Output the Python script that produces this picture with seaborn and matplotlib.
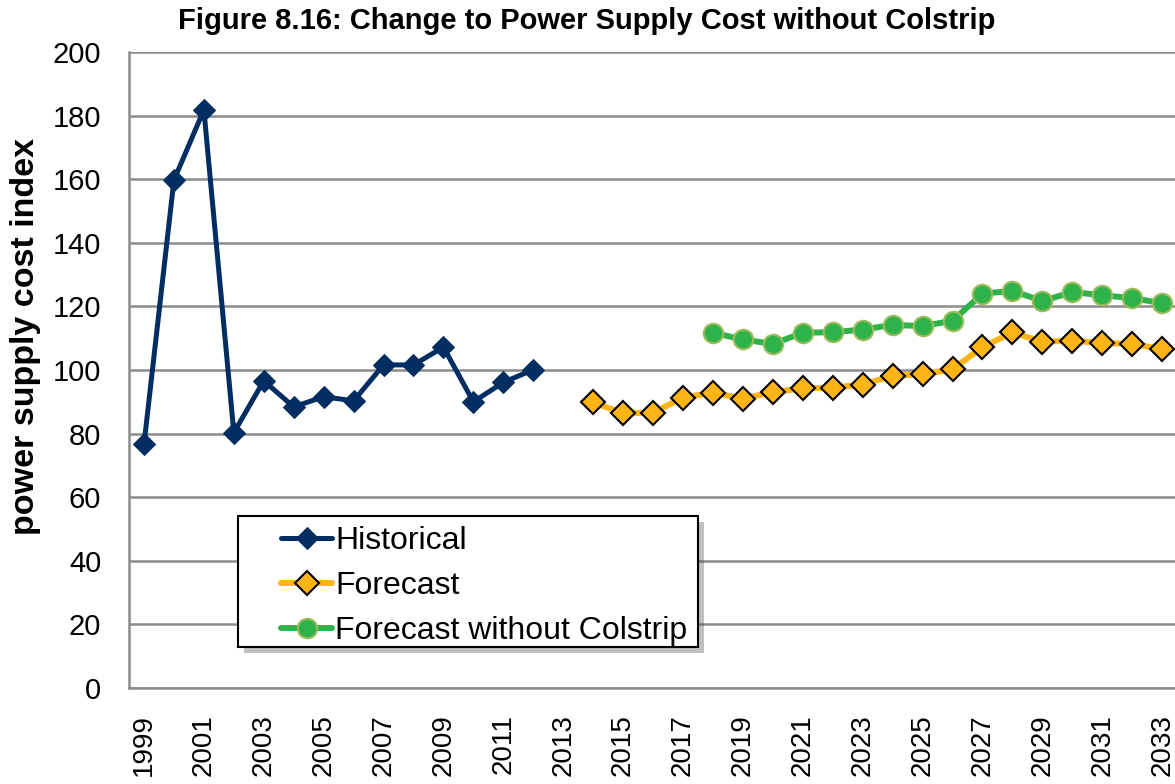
import pandas as pd
import matplotlib
matplotlib.use('Agg')
import matplotlib.pyplot as plt
import matplotlib.patches as mpatches
import matplotlib.patheffects as pe
import seaborn as sns

# valores
anos_hist = list(range(1999, 2013))
historico = [76.6, 159.7, 181.8, 80.3, 96.6, 88.4, 91.6, 90.3, 101.6, 101.6, 107.2, 90.0, 96.1, 100.1]

anos_prev = list(range(2014, 2034))
previsao = [89.8, 86.4, 86.6, 91.3, 92.9, 91.0, 93.1, 94.2, 94.5, 95.4,
            98.2, 98.7, 100.2, 107.2, 111.8, 108.9, 109.2, 108.5, 108.2, 106.6]

anos_sem = list(range(2018, 2034))
sem_colstrip = [111.7, 109.6, 108.2, 111.7, 111.9, 112.7, 114.2, 113.8,
                115.5, 124.0, 124.9, 121.7, 124.5, 123.5, 122.6, 121.0]

anos_ticks = list(range(1999, 2034, 2))

df_hist = pd.DataFrame({'Ano': anos_hist, 'Indice': historico})
df_prev = pd.DataFrame({'Ano': anos_prev, 'Indice': previsao})
df_sem = pd.DataFrame({'Ano': anos_sem, 'Indice': sem_colstrip})

sns.set_theme(style="white")
plt.rcParams['font.family'] = ['Liberation Sans', 'DejaVu Sans']
plt.rcParams['text.color'] = 'black'
plt.rcParams['axes.labelcolor'] = 'black'
plt.rcParams['xtick.color'] = 'black'
plt.rcParams['ytick.color'] = 'black'

fig = plt.figure(figsize=(11.75, 7.84), dpi=100)
ax = fig.add_axes([0.1098, 0.1224, 0.892, 0.8113])

sns.lineplot(x='Ano', y='Indice', data=df_hist, ax=ax, color='#002D62', linewidth=3.6,
             marker='D', markersize=11, markeredgecolor='#002D62', label='Historical')
sns.lineplot(x='Ano', y='Indice', data=df_prev, ax=ax, color='#FDB515', linewidth=4.3,
             marker='D', markersize=12, markeredgecolor='black', markeredgewidth=1.5,
             label='Forecast')
sns.lineplot(x='Ano', y='Indice', data=df_sem, ax=ax, color='#2DB34A', linewidth=4.3,
             marker='o', markersize=14, markeredgecolor='#9BBB59', markeredgewidth=1.5,
             label='Forecast without Colstrip')

ax.set_xlim(1998.5, 2033.5)
ax.set_ylim(0, 200)
ax.set_yticks(range(0, 201, 20))
ax.set_xticks(anos_ticks)
ax.set_xticklabels([str(a) for a in anos_ticks], rotation=90)
ax.tick_params(axis='y', labelsize=21, length=0, pad=20)
ax.tick_params(axis='x', labelsize=20, length=0, pad=19)
ax.yaxis.grid(True, color='#8C8C8C', linewidth=1.8)
ax.set_axisbelow(True)

for lado in ['top', 'right']:
    ax.spines[lado].set_visible(False)
for lado in ['left', 'bottom']:
    ax.spines[lado].set_color('#8C8C8C')
    ax.spines[lado].set_linewidth(1.8)

ax.set_xlabel('')
ax.set_ylabel('power supply cost index', fontsize=24.5, fontweight='bold')
ax.yaxis.set_label_coords(-0.084, 0.552)
fig.text(0.499, 0.973, 'Figure 8.16: Change to Power Supply Cost without Colstrip',
         ha='center', va='center', fontsize=21, fontweight='bold')

# caixa da legenda com sombra
caixa = mpatches.Rectangle((0.104, 0.0645), 0.439, 0.206, transform=ax.transAxes,
                           facecolor='white', edgecolor='black', linewidth=1.5, zorder=4,
                           path_effects=[pe.SimplePatchShadow(offset=(4, -4), alpha=0.35),
                                         pe.Normal()])
ax.add_patch(caixa)

leg = ax.legend(loc='upper left', bbox_to_anchor=(0.145, 0.254), frameon=False,
                fontsize=23, handlelength=1.6, handletextpad=0.1, labelspacing=0.46,
                borderpad=0, borderaxespad=0)
leg.set_zorder(5)

plt.savefig('out.png', dpi=100)
